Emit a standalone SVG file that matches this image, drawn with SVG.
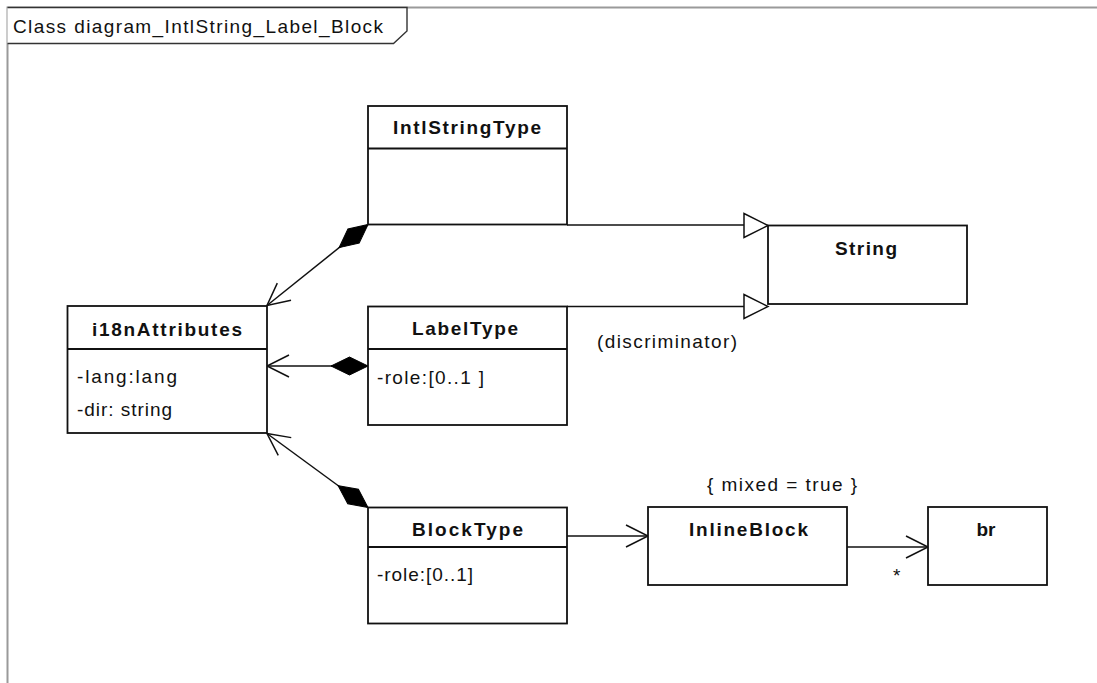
<svg xmlns="http://www.w3.org/2000/svg" width="1097" height="683" viewBox="0 0 1097 683">
  <style>
    .box { fill: #fff; stroke: #111; stroke-width: 1.8; }
    .sep { stroke: #111; stroke-width: 1.8; }
    .edge { fill: none; stroke: #111; stroke-width: 1.5; }
    .head { fill: none; stroke: #111; stroke-width: 1.5; }
    .tri { fill: #fff; stroke: #111; stroke-width: 1.5; }
    .dia { fill: #000; stroke: #000; stroke-width: 1; }
    .t { font-family: "Liberation Sans", Arial, sans-serif; font-size: 19px; fill: #111; }
    .b { font-weight: bold; }
  </style>
  <defs>
    <!-- filled composition diamond, tip at origin, body along +x -->
    <path id="diamond" class="dia" d="M0,0 L18.5,-9 L37,0 L18.5,9 Z"/>
    <!-- open navigation arrowhead, tip at origin, arms along +x -->
    <path id="open" class="head" d="M22,-11 L0,0 L22,11"/>
  </defs>

  <!-- frame and name tab -->
  <g id="frame">
    <path d="M7.5,683 L7.5,7.5 L1097,7.5" fill="none" stroke="#9a9a9a" stroke-width="2"/>
    <path d="M7.5,7.5 L407,7.5 L407,31 L393.5,43.5 L7.5,43.5" fill="#fff" stroke="#333" stroke-width="1.4"/>
    <text class="t" x="13" y="33" textLength="370" lengthAdjust="spacing">Class diagram_IntlString_Label_Block</text>
  </g>

  <!-- connectors -->
  <g id="connectors">
    <!-- generalizations to String -->
    <path class="edge" d="M567,225 L744,225"/>
    <polygon class="tri" points="744,213.5 768,225.5 744,237.5"/>
    <path class="edge" d="M567,306.5 L744,306.5"/>
    <polygon class="tri" points="744,294.5 768,306.5 744,318.5"/>
    <text class="t" x="597" y="348" textLength="140" lengthAdjust="spacing">(discriminator)</text>

    <!-- IntlStringType composes i18nAttributes -->
    <path class="edge" d="M368,224.5 L267,305.5"/>
    <use href="#diamond" transform="translate(368,224.5) rotate(141.3)"/>
    <use href="#open" transform="translate(267,305.5) rotate(-38.7)"/>

    <!-- LabelType composes i18nAttributes -->
    <path class="edge" d="M368,366 L267,366"/>
    <use href="#diamond" transform="translate(368,366) rotate(180)"/>
    <use href="#open" transform="translate(267,366)"/>

    <!-- BlockType composes i18nAttributes -->
    <path class="edge" d="M368,507.5 L267,433.5"/>
    <use href="#diamond" transform="translate(368,507.5) rotate(216.2)"/>
    <use href="#open" transform="translate(267,433.5) rotate(36.2)"/>

    <!-- BlockType to InlineBlock -->
    <path class="edge" d="M567,536 L648,536"/>
    <use href="#open" transform="translate(648,536) rotate(180)"/>

    <!-- InlineBlock to br -->
    <path class="edge" d="M847,547 L928,547"/>
    <use href="#open" transform="translate(928,547) rotate(180)"/>
    <text class="t" x="893" y="582">*</text>
  </g>

  <g id="IntlStringType">
    <rect class="box" x="368" y="106" width="199" height="118.5"/>
    <line class="sep" x1="368" y1="148.5" x2="567" y2="148.5"/>
    <text class="t b" x="393" y="134" textLength="148" lengthAdjust="spacing">IntlStringType</text>
  </g>

  <g id="String">
    <rect class="box" x="768" y="225.5" width="199" height="78.5"/>
    <text class="t b" x="835" y="255" textLength="62" lengthAdjust="spacing">String</text>
  </g>

  <g id="i18nAttributes">
    <rect class="box" x="67.5" y="306" width="199.5" height="127"/>
    <line class="sep" x1="67.5" y1="349" x2="267" y2="349"/>
    <text class="t b" x="92" y="336" textLength="150" lengthAdjust="spacing">i18nAttributes</text>
    <text class="t" x="77" y="383" textLength="100" lengthAdjust="spacing">-lang:lang</text>
    <text class="t" x="77" y="416" textLength="95" lengthAdjust="spacing">-dir: string</text>
  </g>

  <g id="LabelType">
    <rect class="box" x="368" y="306.5" width="199" height="118.5"/>
    <line class="sep" x1="368" y1="349" x2="567" y2="349"/>
    <text class="t b" x="412" y="335" textLength="106" lengthAdjust="spacing">LabelType</text>
    <text class="t" x="377" y="384" textLength="107" lengthAdjust="spacing">-role:[0..1 ]</text>
  </g>

  <g id="BlockType">
    <rect class="box" x="368" y="507.5" width="199" height="116"/>
    <line class="sep" x1="368" y1="547" x2="567" y2="547"/>
    <text class="t b" x="412" y="536" textLength="111" lengthAdjust="spacing">BlockType</text>
    <text class="t" x="377" y="581" textLength="96" lengthAdjust="spacing">-role:[0..1]</text>
  </g>

  <g id="InlineBlock">
    <text class="t" x="707" y="491" textLength="150" lengthAdjust="spacing">{ mixed = true }</text>
    <rect class="box" x="648" y="507" width="199" height="78"/>
    <text class="t b" x="689" y="536" textLength="119" lengthAdjust="spacing">InlineBlock</text>
  </g>

  <g id="br">
    <rect class="box" x="928" y="507" width="119" height="78"/>
    <text class="t b" x="986" y="536" text-anchor="middle">br</text>
  </g>
</svg>
